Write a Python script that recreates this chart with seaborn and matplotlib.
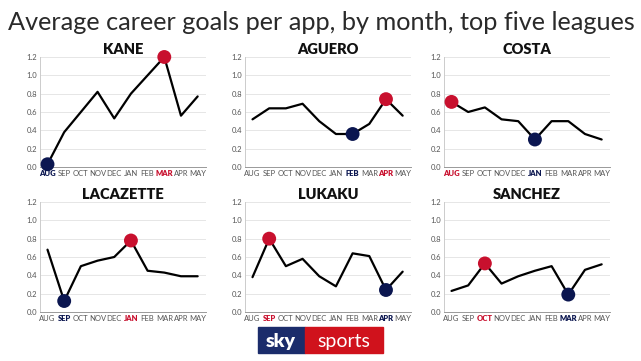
import pandas as pd
import matplotlib
import matplotlib.pyplot as plt
import seaborn as sns
from matplotlib.patches import Rectangle

matplotlib.use('Agg')

months = ['AUG', 'SEP', 'OCT', 'NOV', 'DEC', 'JAN', 'FEB', 'MAR', 'APR', 'MAY']
players = ['KANE', 'AGUERO', 'COSTA', 'LACAZETTE', 'LUKAKU', 'SANCHEZ']

kane = [0.03, 0.38, 0.60, 0.82, 0.53, 0.80, 1.00, 1.20, 0.56, 0.77]
aguero = [0.52, 0.64, 0.64, 0.69, 0.50, 0.36, 0.36, 0.47, 0.74, 0.56]
costa = [0.71, 0.60, 0.65, 0.52, 0.50, 0.30, 0.50, 0.50, 0.36, 0.30]
lacazette = [0.68, 0.12, 0.50, 0.56, 0.60, 0.78, 0.45, 0.43, 0.39, 0.39]
lukaku = [0.38, 0.80, 0.50, 0.58, 0.39, 0.28, 0.64, 0.61, 0.24, 0.44]
sanchez = [0.23, 0.29, 0.53, 0.31, 0.39, 0.45, 0.50, 0.19, 0.46, 0.52]

# best / worst month index for each player
best_month = [7, 8, 0, 5, 1, 2]
worst_month = [0, 6, 5, 1, 8, 7]

series = [kane, aguero, costa, lacazette, lukaku, sanchez]
RED = '#c8102e'
NAVY = '#0b1650'

sns.set_style('white')
plt.rcParams['font.family'] = ['Lato', 'DejaVu Sans']

fig = plt.figure(figsize=(6.41, 3.61), dpi=100)
W, H = 641, 361

lefts = [40, 245, 444]
tops = [57, 202]
aw, ah = 166, 110

for i, (name, vals) in enumerate(zip(players, series)):
    r, c = divmod(i, 3)
    ax = fig.add_axes([lefts[c] / W, 1 - (tops[r] + ah) / H, aw / W, ah / H])
    df = pd.DataFrame({'x': range(len(months)), 'y': vals})
    for yv in [0.2, 0.4, 0.6, 0.8, 1.0, 1.2]:
        ax.axhline(yv, color='#e6e6e6', lw=0.7, zorder=0)
    sns.lineplot(data=df, x='x', y='y', ax=ax, color='black', lw=1.6, zorder=2)
    b, w = best_month[i], worst_month[i]
    sns.scatterplot(x=[b], y=[vals[b]], ax=ax, color=RED, s=100, edgecolor='none', zorder=3)
    sns.scatterplot(x=[w], y=[vals[w]], ax=ax, color=NAVY, s=100, edgecolor='none', zorder=3)
    ax.set_xlim(-0.45, 9.5)
    ax.set_ylim(0, 1.2)
    ax.set_xticks(range(len(months)))
    ax.set_xticklabels(months)
    ax.set_yticks([0, 0.2, 0.4, 0.6, 0.8, 1.0, 1.2])
    ax.set_yticklabels(['0.0', '0.2', '0.4', '0.6', '0.8', '1.0', '1.2'])
    ax.tick_params(axis='both', labelsize=5.5, colors='#555555', length=0, pad=2)
    for j, lab in enumerate(ax.get_xticklabels()):
        if j == b:
            lab.set_color(RED)
            lab.set_fontweight('heavy')
        elif j == w:
            lab.set_color(NAVY)
            lab.set_fontweight('heavy')
    for s in ['top', 'right']:
        ax.spines[s].set_visible(False)
    ax.spines['left'].set_color('#cccccc')
    ax.spines['left'].set_linewidth(0.7)
    ax.spines['bottom'].set_color('#999999')
    ax.spines['bottom'].set_linewidth(0.7)
    ax.set_xlabel('')
    ax.set_ylabel('')
    ax.set_title(name, fontsize=10.5, fontweight='heavy', pad=2, color='#111111')
    ax.patch.set_alpha(0)
    for coll in ax.collections:
        coll.set_clip_on(False)

fig.text(8 / W, 1 - 22 / H, 'Average career goals per app, by month, top five leagues',
         fontsize=18.2, color='#2a2a2a', va='center', ha='left')

# sky sports logo
fig.patches.append(Rectangle((258 / W, 1 - 353 / H), 47 / W, 26 / H,
                             transform=fig.transFigure, color='#1b2c6b', zorder=5))
fig.patches.append(Rectangle((305 / W, 1 - 353 / H), 78 / W, 26 / H,
                             transform=fig.transFigure, color='#d0121c', zorder=5))
fig.text(281 / W, 1 - 341 / H, 'sky', fontsize=14, fontweight='heavy', color='white',
         ha='center', va='center', zorder=6)
fig.text(344 / W, 1 - 341 / H, 'sports', fontsize=14, color='white',
         ha='center', va='center', zorder=6)

plt.savefig('out.png', dpi=100)
plt.close('all')
